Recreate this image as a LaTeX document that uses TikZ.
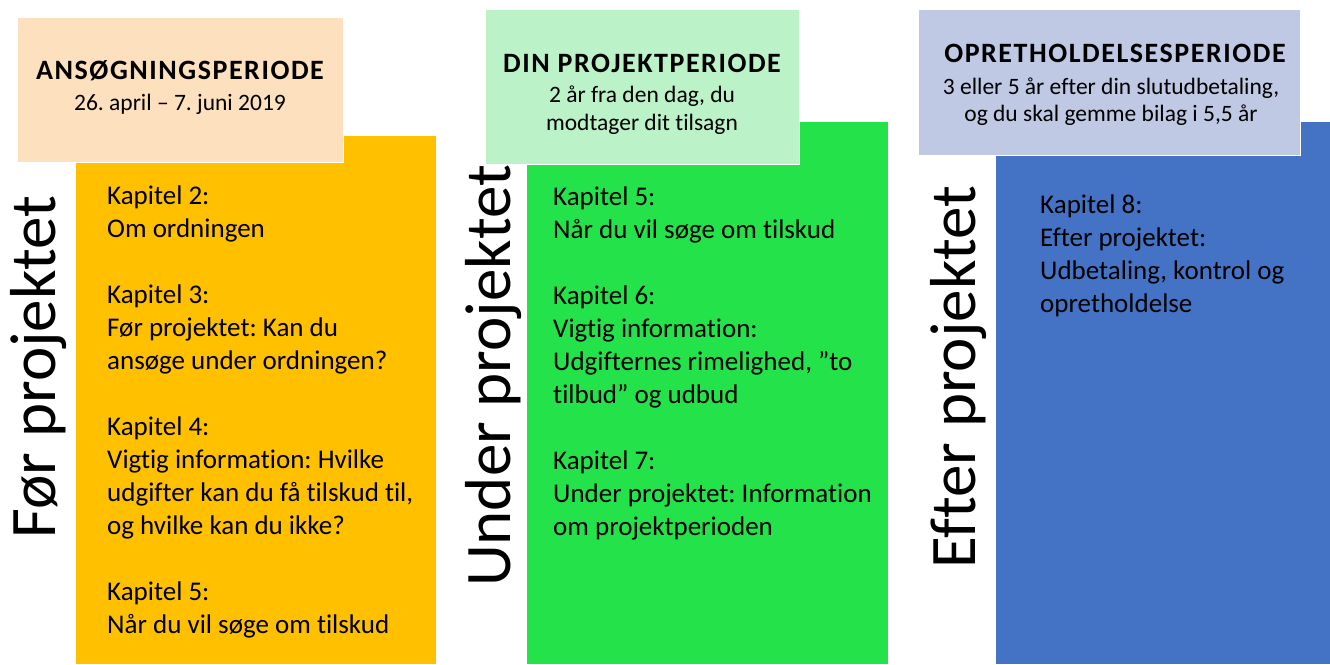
\documentclass[tikz,border=0pt]{standalone}
\usepackage{fontspec}
\setmainfont{Carlito}[Ligatures=NoCommon]
\frenchspacing
\definecolor{peach}{RGB}{253,224,189}
\definecolor{amber}{RGB}{255,192,0}
\definecolor{mint}{RGB}{187,242,200}
\definecolor{lime}{RGB}{35,226,74}
\definecolor{lavender}{RGB}{191,201,227}
\definecolor{royal}{RGB}{68,114,196}
\tikzset{
  headbox/.style={draw=white, line width=1pt},
  headtitle/.style={font=\fontsize{28}{32}\selectfont\bfseries\addfontfeatures{LetterSpace=5.5}, anchor=base, inner sep=0},
  headsub/.style={font=\fontsize{23.5}{28}\selectfont, anchor=base, inner sep=0},
  bodytext/.style={font=\fontsize{27}{33}\selectfont, anchor=north west, inner sep=0, align=left},
  sidetext/.style={font=\fontsize{65}{70}\selectfont, rotate=90, anchor=base, inner sep=0}
}
\begin{document}
\begin{tikzpicture}[x=1pt, y=-1pt]
\useasboundingbox (0,0) rectangle (1330,664);
% column boxes
\fill[amber] (76,136) rectangle (436,664);
\fill[lime] (527,122) rectangle (888,664);
\fill[royal] (996,122) rectangle (1330,664);
% header boxes
\filldraw[fill=peach, headbox] (17,17) rectangle (343,162);
\filldraw[fill=mint, headbox] (485,9) rectangle (799,164);
\filldraw[fill=lavender, headbox] (918,9) rectangle (1300,155);
% header texts
\node[headtitle] (h1) at (180,79) {ANSØGNINGSPERIODE};
\node[headsub] (s1) at (180,110) {26. april – 7. juni 2019};
\node[headtitle] (h2) at (642,72) {DIN PROJEKTPERIODE};
\node[headsub] (s2a) at (642,102) {2 år fra den dag, du};
\node[headsub] (s2b) at (642,130) {modtager dit tilsagn};
\node[headtitle] (h3) at (1115,62) {OPRETHOLDELSESPERIODE};
\node[headsub] (s3a) at (1111,94) {3 eller 5 år efter din slutudbetaling,};
\node[headsub] (s3b) at (1111,121) {og du skal gemme bilag i 5,5 år};
% side labels
\node[sidetext] (l1) at (55,367) {Før projektet};
\node[sidetext] (l2) at (510,376) {Under projektet};
\node[sidetext] (l3) at (975,377) {Efter projektet};
% body texts
\node[bodytext] (b1) at (107,186) {Kapitel 2:\\Om ordningen\\[33pt]Kapitel 3:\\Før projektet: Kan du\\ansøge under ordningen?\\[33pt]Kapitel 4:\\Vigtig information: Hvilke\\udgifter kan du få tilskud til,\\og hvilke kan du ikke?\\[33pt]Kapitel 5:\\Når du vil søge om tilskud};
\node[bodytext] (b2) at (553,187) {Kapitel 5:\\Når du vil søge om tilskud\\[33pt]Kapitel 6:\\Vigtig information:\\Udgifternes rimelighed, ”to\\tilbud” og udbud\\[33pt]Kapitel 7:\\Under projektet: Information\\om projektperioden};
\node[bodytext] (b3) at (1040,195) {Kapitel 8:\\Efter projektet:\\Udbetaling, kontrol og\\opretholdelse};
\end{tikzpicture}
\end{document}
